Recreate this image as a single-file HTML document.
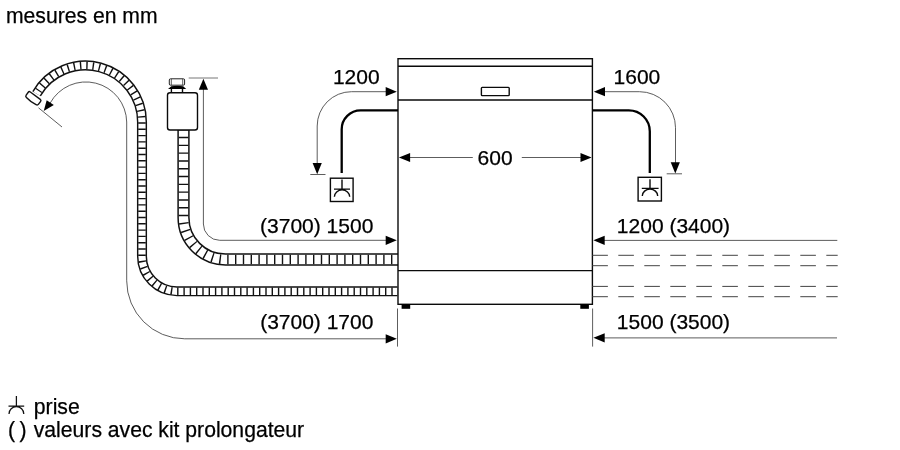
<!DOCTYPE html>
<html lang="fr">
<head>
<meta charset="utf-8">
<title>mesures en mm</title>
<style>
html,body{margin:0;padding:0;background:#fff;}
body{width:900px;height:450px;overflow:hidden;}
svg{display:block;will-change:transform;}
text{font-family:"Liberation Sans",Arial,Helvetica,sans-serif;font-size:21px;fill:#000;stroke:#000;stroke-width:0.25px;}
.thin{fill:none;stroke:#333;stroke-width:0.8;}
.ln{fill:none;stroke:#0a0a0a;stroke-width:1.4;}
.cable{fill:none;stroke:#000;stroke-width:2.3;}
.dash{fill:none;stroke:#444;stroke-width:1;stroke-dasharray:15.6 10.4;}
.ar{fill:#000;stroke:none;}
</style>
</head>
<body>
<svg width="900" height="450" viewBox="0 0 900 450">
<rect x="0" y="0" width="900" height="450" fill="#fff"/>

<!-- title -->
<text x="6" y="23" style="font-size:21.15px">mesures en mm</text>

<!-- drain hose -->
<g id="drain">
<path d="M397.5 291.3 L177 291.3 A35 35 0 0 1 142 256.3 L142 122 A56.5 56.5 0 0 0 36.6 93.7" fill="none" stroke="#111" stroke-width="10.1"/>
<path d="M397.5 291.3 L177 291.3 A35 35 0 0 1 142 256.3 L142 122 A56.5 56.5 0 0 0 36.6 93.7" fill="none" stroke="#fff" stroke-width="7.2"/>
<path d="M397.5 291.3 L177 291.3 A35 35 0 0 1 142 256.3 L142 122 A56.5 56.5 0 0 0 38.4 90.8" fill="none" stroke="#111" stroke-width="7.6" stroke-dasharray="1.4 4.9" stroke-dashoffset="-4.8"/>
<path d="M-6.2 -3 H6.2 Q7.7 -3 7.7 -1.6 V1.9 Q7.7 3.5 6 3.8 Q0 4.9 -6 3.8 Q-7.7 3.5 -7.7 1.9 V-1.6 Q-7.7 -3 -6.2 -3 Z" transform="translate(33.5 98.1) rotate(36.5)" fill="#fff" stroke="#111" stroke-width="1.4"/>
</g>

<!-- inlet hose -->
<g id="inlet">
<path d="M398 259.5 L225.5 259.5 A42 42 0 0 1 183.5 217.5 L183.5 130" fill="none" stroke="#111" stroke-width="12.3"/>
<path d="M398 259.5 L225.5 259.5 A42 42 0 0 1 183.5 217.5 L183.5 130" fill="none" stroke="#fff" stroke-width="9.3"/>
<path d="M398 259.5 L225.5 259.5 A42 42 0 0 1 183.5 217.5 L183.5 130" fill="none" stroke="#111" stroke-width="9.7" stroke-dasharray="1.4 6.4" stroke-dashoffset="-5.6"/>
</g>

<!-- valve -->
<g id="valve">
<rect x="167.5" y="92.7" width="30" height="37.3" rx="2.5" fill="#fff" class="ln"/>
<path d="M171.4 89 V92.7 M182.5 89 V92.7" class="ln" stroke-width="1"/>
<path d="M171.2 86.2 Q177.2 85.4 183.2 86.2 L186.2 89.1 H168.1 Z" fill="#000"/>
<rect x="169.3" y="78.8" width="15.3" height="6.4" rx="1.2" fill="#fff" stroke="#222" stroke-width="1"/>
<path d="M171.3 79 V85 M182.7 79 V85" fill="none" stroke="#333" stroke-width="0.8"/>
</g>

<!-- valve dim -->
<path d="M188.7 78 H218" fill="none" stroke="#777" stroke-width="1"/>
<path d="M203.4 89 V224 A16.3 16.3 0 0 0 219.7 240.3 H386.5" class="thin"/>
<path d="M203.4 78.8 L208 89.8 H198.8 Z" class="ar"/>
<path d="M396.8 240.3 L385.7 235.7 V244.9 Z" class="ar"/>

<!-- drain dim -->
<path d="M50.2 103 A40.8 40.8 0 0 1 126.7 122 L126.7 280.8 A58 58 0 0 0 184.7 338.8 H386.5" class="thin"/>
<path d="M43.7 110.9 L46.7 100.2 L53.8 105.1 Z" class="ar"/>
<path d="M38.5 107.8 L62 127" class="thin"/>
<path d="M396.8 338.8 L385.7 334.2 V343.4 Z" class="ar"/>

<!-- machine -->
<g id="machine">
<rect x="398" y="58.7" width="194.4" height="245.6" fill="#fff" class="ln"/>
<path d="M398 66.2 H592.5 M398 100 H592.5 M398 270.6 H592.5" class="ln"/>
<rect x="481.4" y="87.4" width="27.8" height="8.2" rx="0.8" fill="#fff" class="ln" stroke-width="1.2"/>
<rect x="401.6" y="304.4" width="8.6" height="4.4" fill="#000"/>
<rect x="580.3" y="304.4" width="8.6" height="4.4" fill="#000"/>
</g>
<path d="M397.5 308.5 V346.6 M592.6 308.5 V346.6" class="thin"/>

<!-- 600 dim -->
<path d="M409 157.5 H472.8 M521.8 157.5 H581" class="thin"/>
<path d="M398.9 157.5 L410.1 152.9 V162.1 Z" class="ar"/>
<path d="M591.6 157.5 L580.5 152.9 V162.1 Z" class="ar"/>
<text x="495.1" y="164.6" text-anchor="middle">600</text>

<!-- left cable + 1200 -->
<path d="M398 110.3 H360.7 A19 19 0 0 0 341.7 129.3 V173" class="cable"/>
<path d="M386.5 91.7 H351.5 A34.3 34.3 0 0 0 317.2 126 V164" class="thin"/>
<path d="M396.8 91.7 L385.7 87.1 V96.3 Z" class="ar"/>
<path d="M317.2 174.2 L312.6 163 H321.8 Z" class="ar"/>
<path d="M310.3 174.5 H325.5" class="thin"/>
<text x="356.3" y="84" text-anchor="middle">1200</text>
<g id="sockL">
<rect x="330.4" y="178.2" width="22.7" height="23.3" fill="#fff" class="ln" stroke-width="1.5"/>
<path d="M342 179.6 V189.1 M334 189.1 H350 M334.4 196.8 A7.65 6.9 0 0 1 349.7 196.8" class="ln" stroke-width="1.2"/>
</g>

<!-- right cable + 1600 -->
<path d="M592.5 110.3 H628.8 A21 21 0 0 1 649.8 131.3 V173" class="cable"/>
<path d="M604 91.7 H639.5 A36 36 0 0 1 675.5 127.7 V163" class="thin"/>
<path d="M593.8 91.7 L605 87.1 V96.3 Z" class="ar"/>
<path d="M675.3 173.4 L670.7 162.2 H679.9 Z" class="ar"/>
<path d="M666.7 173.8 H682" class="thin"/>
<text x="636.9" y="84" text-anchor="middle">1600</text>
<g id="sockR">
<rect x="638.1" y="177.3" width="23.3" height="23.7" fill="#fff" class="ln" stroke-width="1.5"/>
<path d="M650 179.2 V188.4 M641.8 188.4 H658.6 M642.3 196 A7.7 6.9 0 0 1 657.7 196" class="ln" stroke-width="1.2"/>
</g>

<!-- right dims -->
<path d="M604 240.4 H837.3" class="thin"/>
<path d="M593.4 240.3 L604.7 235.7 V244.9 Z" class="ar"/>
<path d="M604 337.9 H837" class="thin"/>
<path d="M593.4 337.8 L604.7 333.2 V342.4 Z" class="ar"/>
<path d="M592.3 255.3 H837.7 M592.3 265.7 H837.7 M592.3 286.4 H837.7 M592.3 296.7 H837.7" class="dash"/>

<!-- labels -->
<text x="316.7" y="233.3" text-anchor="middle">(3700) 1500</text>
<text x="316.8" y="329.3" text-anchor="middle">(3700) 1700</text>
<text x="673.5" y="232.8" text-anchor="middle">1200 (3400)</text>
<text x="673.5" y="328.7" text-anchor="middle">1500 (3500)</text>

<!-- legend -->
<path d="M16.4 396 V406.1 M8.5 406.1 H24.2 M9 413.9 A7.4 7.3 0 0 1 23.8 413.9" fill="none" stroke="#111" stroke-width="1.25"/>
<text x="33.8" y="414" style="font-size:21.2px">prise</text>
<text y="437.1" style="font-size:21.15px"><tspan x="8">(</tspan><tspan x="19.4"> </tspan><tspan x="19.4">)</tspan><tspan x="27"> </tspan><tspan x="33.8">valeurs avec kit prolongateur</tspan></text>
</svg>
</body>
</html>
